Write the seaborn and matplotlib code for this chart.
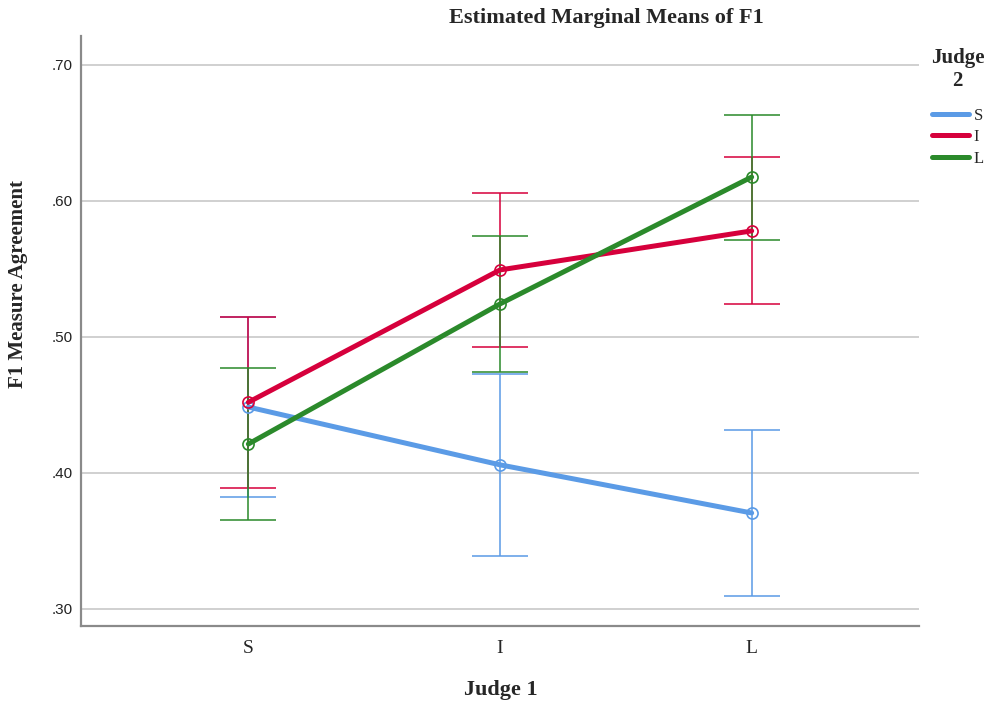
import numpy as np
import pandas as pd
import matplotlib
matplotlib.use("Agg")
import matplotlib.pyplot as plt
import seaborn as sns
from matplotlib.ticker import FuncFormatter, FixedLocator
from matplotlib.lines import Line2D

# ---- data ----
judge1 = ["S", "I", "L"]
judge2 = ["S", "I", "L"]
mean_S = [0.4485, 0.406, 0.3706]
low_S = [0.3824, 0.339, 0.3096]
up_S = [0.5150, 0.4728, 0.4316]
mean_I = [0.452, 0.5493, 0.578]
low_I = [0.389, 0.4926, 0.5243]
up_I = [0.515, 0.6059, 0.6324]
mean_L = [0.4213, 0.5243, 0.6176]
low_L = [0.3654, 0.4743, 0.5713]
up_L = [0.4772, 0.5743, 0.6632]
yticks = [0.30, 0.40, 0.50, 0.60, 0.70]
colors = ["#5b9be6", "#d6003c", "#2b8a2b"]

means = {"S": mean_S, "I": mean_I, "L": mean_L}
lows = {"S": low_S, "I": low_I, "L": low_L}
ups = {"S": up_S, "I": up_I, "L": up_L}

rows = []
for g in judge2:
    for j, m in zip(judge1, means[g]):
        rows.append({"Judge 1": j, "Judge 2": g, "mean": m})
df = pd.DataFrame(rows)

sns.set_theme(style="white")
plt.rcParams["font.family"] = ["Liberation Serif", "DejaVu Serif"]

fig = plt.figure(figsize=(9.91, 7.07), dpi=100)
ax = fig.add_axes([81 / 991, 1 - 626 / 707, (919 - 81) / 991, (626 - 36) / 707])

pal = dict(zip(judge2, colors))
xpos = np.arange(len(judge1))

sns.lineplot(data=df, x="Judge 1", y="mean", hue="Judge 2", palette=pal,
             hue_order=judge2, sort=False, lw=3.6, marker="o", markersize=8,
             markerfacecolor="none", ax=ax, legend=False, zorder=3)
for ln in list(ax.lines):
    ln.set_markeredgecolor(ln.get_color())
    ln.set_markeredgewidth(1.2)

for g, c in zip(judge2, colors):
    m = np.array(means[g]); lo = np.array(lows[g]); hi = np.array(ups[g])
    ax.errorbar(xpos, m, yerr=[m - lo, hi - m], fmt="none", ecolor=c,
                elinewidth=1.3, capsize=20, capthick=1.3, alpha=0.85, zorder=2)

ax.set_xlim(-0.665, 2.665)
ax.set_ylim(0.2875, 0.7213)
ax.yaxis.set_major_locator(FixedLocator(yticks))
ax.yaxis.set_major_formatter(FuncFormatter(lambda v, p: f"{v:.2f}"[1:]))
ax.set_xticks(xpos)
ax.set_xticklabels(judge1, fontsize=14, family="Liberation Serif")
for t in ax.get_yticklabels():
    t.set_family("Liberation Sans")
    t.set_fontsize(11)
    t.set_color("#222222")
ax.tick_params(axis="y", length=0, pad=6)
ax.tick_params(axis="x", length=0, pad=10)
ax.grid(axis="y", color="#c4c4c4", lw=1.1)
ax.set_axisbelow(True)
for s in ["top", "right"]:
    ax.spines[s].set_visible(False)
for s in ["left", "bottom"]:
    ax.spines[s].set_color("#8a8a8a")
    ax.spines[s].set_linewidth(1.6)
ax.set_xlabel("")
ax.set_ylabel("")

fig.text(606 / 991, 1 - 18 / 707, "Estimated Marginal Means of F1", ha="center",
         va="center", fontsize=16, fontweight="bold")
fig.text(18 / 991, 1 - 284 / 707, "F1 Measure Agreement", ha="center", va="center",
         rotation=90, fontsize=15, fontweight="bold")
fig.text(501 / 991, 1 - 690 / 707, "Judge 1", ha="center", va="center",
         fontsize=16, fontweight="bold")

handles = [Line2D([0], [0], color=c, lw=3.6) for c in colors]
leg = ax.legend(handles, judge2, title="Judge\n2", loc="upper left",
                bbox_to_anchor=(931 / 991, 1 - 48 / 707), bbox_transform=fig.transFigure,
                frameon=False, borderpad=0, borderaxespad=0, handlelength=2.2,
                handletextpad=0.3, labelspacing=0.33,
                prop={"family": "Liberation Serif", "size": 12})
leg.get_title().set_fontweight("bold")
leg.get_title().set_fontsize(15)
leg.get_title().set_multialignment("center")
leg._legend_box.align = "center"
leg._legend_box.sep = 12

fig.savefig("out.png", dpi=100, facecolor="white")
